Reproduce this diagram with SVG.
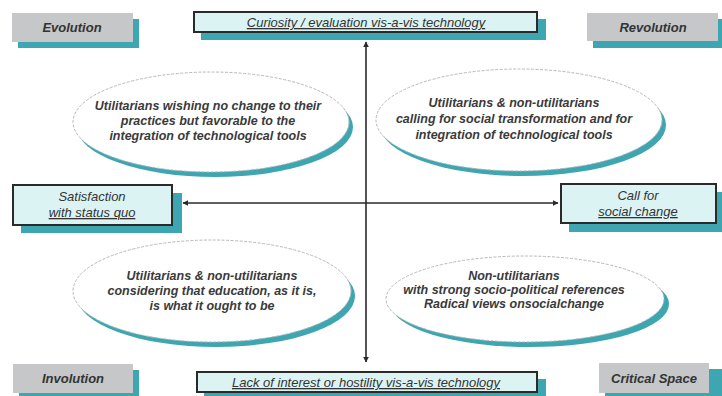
<svg xmlns="http://www.w3.org/2000/svg" width="722" height="396" viewBox="0 0 722 396">
<defs>
<style>
.sh{fill:#3ea6b1}
.gray{fill:#c5c7c9}
.tbox{fill:#dcf3f3;stroke:#2a2a2a;stroke-width:2}
.ell{fill:#ffffff;stroke:#b8b8b8;stroke-width:1;stroke-dasharray:3 1.5}
text{font-family:"Liberation Sans",Arial,sans-serif;fill:#333;text-anchor:middle;font-style:italic}
.corner{font-size:13px;font-weight:bold}
.et{font-size:12.5px;font-weight:bold;fill:#3a3a3a}
.bt{font-size:13px}
.ul{text-decoration:underline}
.conn{stroke:#2a2a2a;stroke-width:1.6;fill:none}
</style>
<marker id="ah" viewBox="0 0 10 10" refX="9" refY="5" markerWidth="6" markerHeight="6" orient="auto-start-reverse" markerUnits="userSpaceOnUse">
<path d="M0,0 L10,5 L0,10 z" fill="#2a2a2a"/>
</marker>
</defs>
<rect width="722" height="396" fill="#ffffff"/>

<g id="evolution">
<rect class="sh" x="18" y="19" width="121" height="29"/>
<rect class="gray" x="12" y="13" width="121" height="29"/>
<text class="corner" x="72" y="32">Evolution</text>
</g>
<g id="revolution">
<rect class="sh" x="593" y="19" width="129" height="29"/>
<rect class="gray" x="587" y="13" width="131" height="28"/>
<text class="corner" x="653" y="32">Revolution</text>
</g>
<g id="involution">
<rect class="sh" x="19" y="370" width="120" height="26"/>
<rect class="gray" x="13" y="364" width="120" height="29"/>
<text class="corner" x="73" y="383">Involution</text>
</g>
<g id="critical-space">
<rect class="sh" x="605" y="369" width="117" height="27"/>
<rect class="gray" x="599" y="363" width="110" height="30"/>
<text class="corner" x="654" y="383">Critical Space</text>
</g>

<g id="connectors">
<line class="conn" x1="366" y1="42" x2="366" y2="362" marker-start="url(#ah)" marker-end="url(#ah)"/>
<line class="conn" x1="183" y1="203" x2="558" y2="203" marker-start="url(#ah)" marker-end="url(#ah)"/>
</g>

<g id="curiosity">
<rect class="sh" x="201" y="19" width="345" height="21"/>
<rect class="tbox" x="194" y="12" width="343" height="20"/>
<text class="bt ul" x="366" y="27">Curiosity / evaluation vis-a-vis technology</text>
</g>
<g id="lack-of-interest">
<rect class="sh" x="204" y="379" width="342" height="17"/>
<rect class="tbox" x="197" y="372" width="340" height="20"/>
<text class="bt ul" x="366" y="387">Lack of interest or hostility vis-a-vis technology</text>
</g>
<g id="satisfaction">
<rect class="sh" x="21" y="193" width="161" height="40"/>
<rect class="tbox" x="13" y="185" width="159" height="40"/>
<text class="bt" x="92" y="201">Satisfaction</text>
<text class="bt ul" x="92" y="217">with status quo</text>
</g>
<g id="call-for-social-change">
<rect class="sh" x="569" y="192" width="153" height="40"/>
<rect class="tbox" x="561" y="184" width="155" height="39"/>
<text class="bt" x="638" y="200">Call for</text>
<text class="bt ul" x="638" y="216">social change</text>
</g>

<g id="ellipse-top-left">
<ellipse class="sh" cx="215" cy="127" rx="138" ry="50"/>
<ellipse class="ell" cx="211" cy="122" rx="138" ry="50"/>
<text class="et" x="208" y="110">Utilitarians wishing no change to their</text>
<text class="et" x="208" y="125">practices but  favorable to the</text>
<text class="et" x="208" y="140">integration of technological tools</text>
</g>
<g id="ellipse-top-right">
<ellipse class="sh" cx="523" cy="125" rx="143" ry="51"/>
<ellipse class="ell" cx="519" cy="120" rx="143" ry="51"/>
<text class="et" x="514" y="107">Utilitarians &amp; non-utilitarians</text>
<text class="et" x="514" y="123">calling for social transformation and for</text>
<text class="et" x="514" y="139">integration of technological tools</text>
</g>
<g id="ellipse-bottom-left">
<ellipse class="sh" cx="216" cy="296" rx="139" ry="51"/>
<ellipse class="ell" cx="212" cy="291" rx="139" ry="51"/>
<text class="et" x="212" y="280">Utilitarians &amp; non-utilitarians</text>
<text class="et" x="212" y="295">considering that education, as it is,</text>
<text class="et" x="212" y="310">is what it ought to be</text>
</g>
<g id="ellipse-bottom-right">
<ellipse class="sh" cx="530" cy="304" rx="139" ry="43"/>
<ellipse class="ell" cx="525" cy="299" rx="139" ry="43"/>
<text class="et" x="514" y="280">Non-utilitarians</text>
<text class="et" x="514" y="294">with strong socio-political references</text>
<text class="et" x="514" y="308">Radical views onsocialchange</text>
</g>
</svg>
